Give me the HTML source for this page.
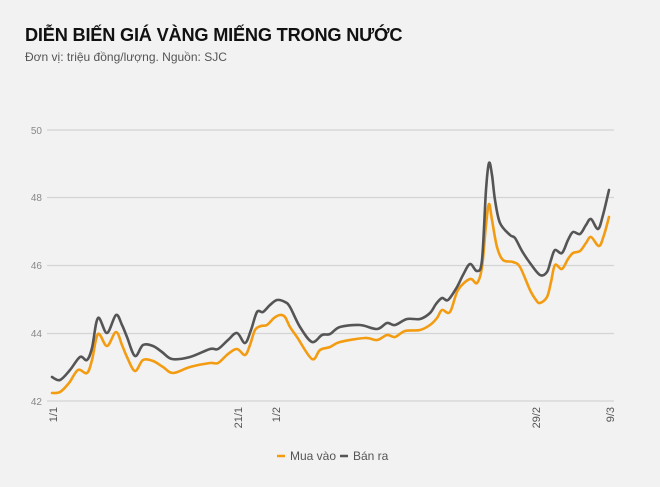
<!DOCTYPE html>
<html><head><meta charset="utf-8"><style>
html,body{margin:0;padding:0;background:#f2f2f2;}
body{width:660px;height:487px;overflow:hidden;position:relative;font-family:"Liberation Sans",sans-serif;}
.t{position:absolute;left:25px;top:25px;font-size:18.2px;font-weight:bold;color:#111;letter-spacing:-0.2px;}
.s{position:absolute;left:25px;top:50px;font-size:12px;color:#555;}
</style></head><body>
<div class="t">DIỄN BIẾN GIÁ VÀNG MIẾNG TRONG NƯỚC</div>
<div class="s">Đơn vị: triệu đồng/lượng. Nguồn: SJC</div>
<svg width="660" height="487" style="position:absolute;left:0;top:0" font-family="Liberation Sans, sans-serif">
<g stroke="#d4d4d4" stroke-width="1.3">
<line x1="47" y1="130" x2="614" y2="130"/><line x1="47" y1="197.5" x2="614" y2="197.5"/><line x1="47" y1="265.5" x2="614" y2="265.5"/><line x1="47" y1="333.5" x2="614" y2="333.5"/><line x1="47" y1="401" x2="614" y2="401"/>
</g>
<g font-size="10" fill="#888" text-anchor="end">
<text x="42" y="134">50</text><text x="42" y="201">48</text><text x="42" y="269">46</text><text x="42" y="337">44</text><text x="42" y="405">42</text>
</g>
<g font-size="11" fill="#555" text-anchor="end">
<text transform="translate(57,407) rotate(-90)">1/1</text>
<text transform="translate(242,407) rotate(-90)">21/1</text>
<text transform="translate(280,407) rotate(-90)">1/2</text>
<text transform="translate(540,407) rotate(-90)">29/2</text>
<text transform="translate(614,407) rotate(-90)">9/3</text>
</g>
<polyline class="sm" fill="none" stroke="#f39c12" stroke-width="2.6" stroke-linejoin="round" stroke-linecap="round" points="52,393 60,392 69,383 78,370 87,373 92,360 98,334 107,346 116,332 122,345 127,357 135,371 143,360 153,361 163,367 173,373 190,367 210,363 218,363 228,354 237,349 245,355 250,345 255,330 261,326 267,325 274,318 280,315 285,317 290,327 297,337 312,359 320,350 330,347 340,342 365,338 377,340 387,335 395,337 405,331 420,330 430,325 437,318 442,310 450,312 458,290 470,279 477,283 482,267 486,225 489,204 492,220 497,247 503,260 513,262 520,267 530,290 536,300 540,303 547,297 551,282 555,265 562,269 568,259 573,253 580,251 586,243 591,237 599,246 604,235 609,217"/>
<polyline class="sm" fill="none" stroke="#555" stroke-width="2.6" stroke-linejoin="round" stroke-linecap="round" points="52,377 60,380 70,370 80,357 87,360 92,348 98,318 107,333 116,315 122,325 127,337 135,356 143,345 153,346 162,352 172,359 190,357 210,349 218,349 228,340 237,333 245,343 251,330 257,312 263,312 270,305 277,300 285,302 290,307 300,327 312,342 322,335 330,334 340,327 360,325 377,329 387,323 395,325 407,319 420,319 430,313 436,304 442,298 448,300 457,287 463,275 470,264 477,271 482,260 486,190 489,163 492,175 495,200 500,223 510,235 515,238 522,251 530,263 540,275 547,272 551,260 555,250 562,253 568,240 573,232 580,234 586,225 591,219 598,229 603,215 609,190"/>
<line x1="277" y1="456" x2="285" y2="456" stroke="#f39c12" stroke-width="2.5"/>
<text x="290" y="460" font-size="12" fill="#555">Mua vào</text>
<line x1="340" y1="456" x2="348" y2="456" stroke="#555" stroke-width="2.5"/>
<text x="353" y="460" font-size="12" fill="#555">Bán ra</text>
</svg>
<script>
document.querySelectorAll('polyline.sm').forEach(function(pl){
 var p=pl.getAttribute('points').trim().split(/\s+/).map(function(s){return s.split(',').map(Number);});
 var d='M'+p[0][0]+','+p[0][1];
 for(var i=0;i<p.length-1;i++){
  var p0=p[i-1]||p[i],p1=p[i],p2=p[i+1],p3=p[i+2]||p2;
  var c1x=p1[0]+(p2[0]-p0[0])/6,c1y=p1[1]+(p2[1]-p0[1])/6,c2x=p2[0]-(p3[0]-p1[0])/6,c2y=p2[1]-(p3[1]-p1[1])/6;
  d+=' C'+c1x+','+c1y+' '+c2x+','+c2y+' '+p2[0]+','+p2[1];
 }
 var path=document.createElementNS('http://www.w3.org/2000/svg','path');
 ['fill','stroke','stroke-width','stroke-linejoin','stroke-linecap'].forEach(function(a){path.setAttribute(a,pl.getAttribute(a));});
 path.setAttribute('d',d);pl.parentNode.replaceChild(path,pl);
});
</script>
</body></html>
